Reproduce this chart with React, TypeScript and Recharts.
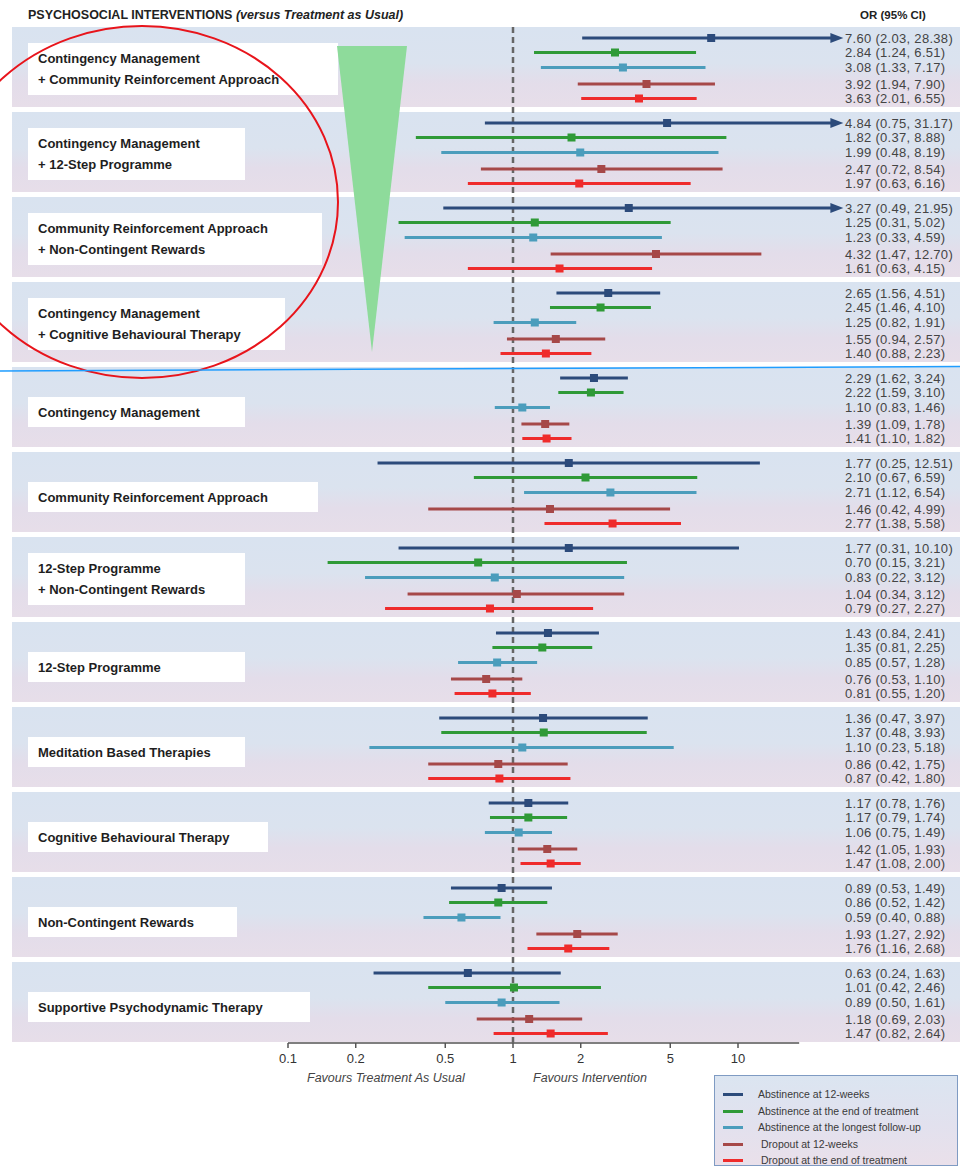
import React from 'react';
import { ScatterChart, Scatter, XAxis, YAxis, ReferenceLine, ReferenceArea, Legend } from 'recharts';

// ---------------- DATA ----------------
const interventions: string[][] = [
  ['Contingency Management', '+ Community Reinforcement Approach'],
  ['Contingency Management', '+ 12-Step Programme'],
  ['Community Reinforcement Approach', '+ Non-Contingent Rewards'],
  ['Contingency Management', '+ Cognitive Behavioural Therapy'],
  ['Contingency Management'],
  ['Community Reinforcement Approach'],
  ['12-Step Programme', '+ Non-Contingent Rewards'],
  ['12-Step Programme'],
  ['Meditation Based Therapies'],
  ['Cognitive Behavioural Therapy'],
  ['Non-Contingent Rewards'],
  ['Supportive Psychodynamic Therapy'],
];

const seriesNames = [
  'Abstinence at 12-weeks',
  'Abstinence at the end of treatment',
  'Abstinence at the longest follow-up',
  'Dropout at 12-weeks',
  'Dropout at the end of treatment',
];

// Abstinence at 12-weeks
const abst12Or = [7.60, 4.84, 3.27, 2.65, 2.29, 1.77, 1.77, 1.43, 1.36, 1.17, 0.89, 0.63];
const abst12Lo = [2.03, 0.75, 0.49, 1.56, 1.62, 0.25, 0.31, 0.84, 0.47, 0.78, 0.53, 0.24];
const abst12Hi = [28.38, 31.17, 21.95, 4.51, 3.24, 12.51, 10.10, 2.41, 3.97, 1.76, 1.49, 1.63];
// Abstinence at the end of treatment
const abstEndOr = [2.84, 1.82, 1.25, 2.45, 2.22, 2.10, 0.70, 1.35, 1.37, 1.17, 0.86, 1.01];
const abstEndLo = [1.24, 0.37, 0.31, 1.46, 1.59, 0.67, 0.15, 0.81, 0.48, 0.79, 0.52, 0.42];
const abstEndHi = [6.51, 8.88, 5.02, 4.10, 3.10, 6.59, 3.21, 2.25, 3.93, 1.74, 1.42, 2.46];
// Abstinence at the longest follow-up
const abstFuOr = [3.08, 1.99, 1.23, 1.25, 1.10, 2.71, 0.83, 0.85, 1.10, 1.06, 0.59, 0.89];
const abstFuLo = [1.33, 0.48, 0.33, 0.82, 0.83, 1.12, 0.22, 0.57, 0.23, 0.75, 0.40, 0.50];
const abstFuHi = [7.17, 8.19, 4.59, 1.91, 1.46, 6.54, 3.12, 1.28, 5.18, 1.49, 0.88, 1.61];
// Dropout at 12-weeks
const drop12Or = [3.92, 2.47, 4.32, 1.55, 1.39, 1.46, 1.04, 0.76, 0.86, 1.42, 1.93, 1.18];
const drop12Lo = [1.94, 0.72, 1.47, 0.94, 1.09, 0.42, 0.34, 0.53, 0.42, 1.05, 1.27, 0.69];
const drop12Hi = [7.90, 8.54, 12.70, 2.57, 1.78, 4.99, 3.12, 1.10, 1.75, 1.93, 2.92, 2.03];
// Dropout at the end of treatment
const dropEndOr = [3.63, 1.97, 1.61, 1.40, 1.41, 2.77, 0.79, 0.81, 0.87, 1.47, 1.76, 1.47];
const dropEndLo = [2.01, 0.63, 0.63, 0.88, 1.10, 1.38, 0.27, 0.55, 0.42, 1.08, 1.16, 0.82];
const dropEndHi = [6.55, 6.16, 4.15, 2.23, 1.82, 5.58, 2.27, 1.20, 1.80, 2.00, 2.68, 2.64];

const seriesOr = [abst12Or, abstEndOr, abstFuOr, drop12Or, dropEndOr];
const seriesLo = [abst12Lo, abstEndLo, abstFuLo, drop12Lo, dropEndLo];
const seriesHi = [abst12Hi, abstEndHi, abstFuHi, drop12Hi, dropEndHi];

const xTicks = [0.1, 0.2, 0.5, 1, 2, 5, 10];
const xTickLabels = ['0.1', '0.2', '0.5', '1', '2', '5', '10'];

// Upper limits above this are drawn as an arrow ending at the arrow cap value
const ARROW_LIMIT = 20;
const ARROW_CAP = 26;
const AXIS_LINE_END = 18.7;

// ---------------- LAYOUT / STYLE ----------------
const W = 960;
const H = 1168;
const PLOT_LEFT = 12;
const PLOT_TOP = 27;
const AXIS_Y = 1043;
const X_ONE_PX = 513;
const PX_PER_DECADE = 225;
const X_MIN = Math.pow(10, (PLOT_LEFT - X_ONE_PX) / PX_PER_DECADE);
const X_MAX = Math.pow(10, (W - X_ONE_PX) / PX_PER_DECADE);
const Y_SPAN = AXIS_Y - PLOT_TOP;
const GROUP_STRIDE = 85;
const BAND_H = 80;
const FIRST_ROW = 11;
const ROW_OFFSETS = [0, 14.5, 29.5, 46, 60.5];
const LABEL_BOX_RIGHT = [338, 245, 322, 285, 245, 318, 245, 245, 245, 268, 237, 310];
const seriesColors = ['#2c4b7b', '#2f9a37', '#4b9dbc', '#a64848', '#ef2b2b'];
const FONT = "'Liberation Sans', Arial, sans-serif";

const rowY = (g: number, s: number) => FIRST_ROW + g * GROUP_STRIDE + ROW_OFFSETS[s];

const fmt = (v: number) => v.toFixed(2);

const pointData = seriesOr.map((ors, s) =>
  ors.map((v, g) => ({ x: v, y: rowY(g, s), lo: seriesLo[s][g], hi: seriesHi[s][g] }))
);

const arrowData: { x: number; y: number; s: number }[] = [];
seriesHi.forEach((his, s) =>
  his.forEach((h, g) => {
    if (h > ARROW_LIMIT) arrowData.push({ x: ARROW_CAP, y: rowY(g, s), s });
  })
);

const SquareShape = (color: string) => (props: any) => {
  const { cx, cy } = props;
  if (cx == null || cy == null) return <g />;
  return <rect x={cx - 4} y={cy - 4} width={8} height={8} fill={color} />;
};

const ArrowShape = (props: any) => {
  const { cx, cy, payload } = props;
  if (cx == null || cy == null) return <g />;
  const c = seriesColors[payload.s];
  return <path d={`M${cx - 1},${cy - 5} L${cx + 12},${cy} L${cx - 1},${cy + 5} Z`} fill={c} />;
};

const LegendBox = () => (
  <div
    style={{
      position: 'relative',
      width: 244,
      height: 91,
      boxSizing: 'border-box',
      border: '1px solid #7f9bc3',
      background: 'linear-gradient(#dbe5f1, #e2e1ee 55%, #eae0ea)',
      fontFamily: FONT,
      fontSize: 10.5,
      color: '#3a3a3a',
    }}
  >
    {seriesNames.map((n, i) => (
      <div key={n} style={{ position: 'absolute', left: 8, top: [11, 28, 44, 61, 77][i], height: 14, display: 'flex', alignItems: 'center' }}>
        <div style={{ width: 20, height: 3, background: seriesColors[i] }} />
        <span style={{ marginLeft: i < 3 ? 15 : 18, whiteSpace: 'nowrap' }}>{n}</span>
      </div>
    ))}
  </div>
);

export default function App() {
  return (
    <div style={{ position: 'absolute', left: 0, top: 0, width: W, height: H, background: '#ffffff' }}>
      <ScatterChart width={W} height={H} margin={{ top: PLOT_TOP, right: 0, bottom: H - AXIS_Y - 30, left: PLOT_LEFT }}>
        <defs>
          <linearGradient id="bandGrad" x1="0" y1="0" x2="0" y2="1">
            <stop offset="0%" stopColor="#d9e3f0" />
            <stop offset="45%" stopColor="#dbe3ef" />
            <stop offset="70%" stopColor="#e3ddea" />
            <stop offset="100%" stopColor="#e7dee9" />
          </linearGradient>
        </defs>
        <XAxis
          type="number"
          dataKey="x"
          scale="log"
          domain={[X_MIN, X_MAX]}
          allowDataOverflow
          ticks={xTicks}
          interval={0}
          tickFormatter={(v: number) => xTickLabels[xTicks.indexOf(v)] ?? String(v)}
          axisLine={false}
          tickLine={{ stroke: '#555', strokeWidth: 1.5 }}
          tickSize={5}
          tickMargin={6}
          height={30}
          tick={{ fontSize: 13, fill: '#333', fontFamily: FONT }}
        />
        <YAxis type="number" dataKey="y" domain={[0, Y_SPAN]} reversed hide allowDataOverflow />
        {interventions.map((_, g) => (
          <ReferenceArea
            key={`band${g}`}
            y1={g * GROUP_STRIDE}
            y2={g * GROUP_STRIDE + BAND_H}
            fill="url(#bandGrad)"
            fillOpacity={1}
            stroke="none"
            ifOverflow="visible"
          />
        ))}
        <ReferenceLine
          segment={[{ x: xTicks[0], y: Y_SPAN }, { x: AXIS_LINE_END, y: Y_SPAN }]}
          stroke="#555"
          strokeWidth={1.5}
          ifOverflow="visible"
        />
        <ReferenceLine x={1} stroke="#666" strokeWidth={2.5} strokeDasharray="6 4" />
        {pointData.map((pts, s) =>
          pts.map((p, g) => (
            <ReferenceLine
              key={`ci${s}-${g}`}
              segment={[{ x: p.lo, y: p.y }, { x: p.hi > ARROW_LIMIT ? ARROW_CAP : p.hi, y: p.y }]}
              stroke={seriesColors[s]}
              strokeWidth={3}
              ifOverflow="visible"
            />
          ))
        )}
        {pointData.map((pts, s) => (
          <Scatter
            key={`s${s}`}
            name={seriesNames[s]}
            data={pts}
            fill={seriesColors[s]}
            shape={SquareShape(seriesColors[s])}
            isAnimationActive={false}
          />
        ))}
        <Scatter name="arrows" data={arrowData} shape={ArrowShape} legendType="none" isAnimationActive={false} />
        <Legend
          layout="horizontal"
          verticalAlign="middle"
          align="center"
          width={244}
          height={91}
          content={() => <LegendBox />}
          wrapperStyle={{ position: 'absolute', left: 714, top: 1075, width: 244, height: 91 }}
        />
      </ScatterChart>

      <svg
        width={W}
        height={H}
        style={{ position: 'absolute', left: 0, top: 0, pointerEvents: 'none' }}
        fontFamily={FONT}
      >
        <text x={28} y={19} fontSize={12.5} fontWeight="bold" fill="#222">
          PSYCHOSOCIAL INTERVENTIONS <tspan fontStyle="italic">(versus Treatment as Usual)</tspan>
        </text>
        <text x={893} y={19} fontSize={11.5} fontWeight="bold" fill="#222" textAnchor="middle">
          OR (95% CI)
        </text>

        {interventions.map((lines, g) => {
          const top = PLOT_TOP + g * GROUP_STRIDE;
          const two = lines.length > 1;
          return (
            <g key={`lab${g}`}>
              <rect
                x={28}
                y={top + (two ? 16 : 30)}
                width={LABEL_BOX_RIGHT[g] - 28}
                height={two ? 52 : 30}
                fill="#ffffff"
              />
              {lines.map((ln, i) => (
                <text
                  key={i}
                  x={38}
                  y={top + (two ? 36 + i * 21 : 50)}
                  fontSize={13}
                  fontWeight="bold"
                  fill="#1e1e1e"
                >
                  {ln}
                </text>
              ))}
            </g>
          );
        })}

        {seriesOr.map((ors, s) =>
          ors.map((v, g) => (
            <text
              key={`or${s}-${g}`}
              x={845}
              y={PLOT_TOP + rowY(g, s) + 4.5}
              fontSize={13}
              letterSpacing={0.3}
              fill="#444"
            >
              {`${fmt(v)} (${fmt(seriesLo[s][g])}, ${fmt(seriesHi[s][g])})`}
            </text>
          ))
        )}

        <text x={307} y={1082} fontSize={12.5} fontStyle="italic" fill="#444">
          Favours Treatment As Usual
        </text>
        <text x={533} y={1082} fontSize={12.5} fontStyle="italic" fill="#444">
          Favours Intervention
        </text>

        <polygon points="337,46 407,46 372,352" fill="#8edb9b" />
        <ellipse cx={142} cy={202} rx={196} ry={176} fill="none" stroke="#e8141b" strokeWidth={2} />
        <line x1={0} y1={371} x2={960} y2={366.5} stroke="#1f9dff" strokeWidth={1.5} />
      </svg>
    </div>
  );
}
